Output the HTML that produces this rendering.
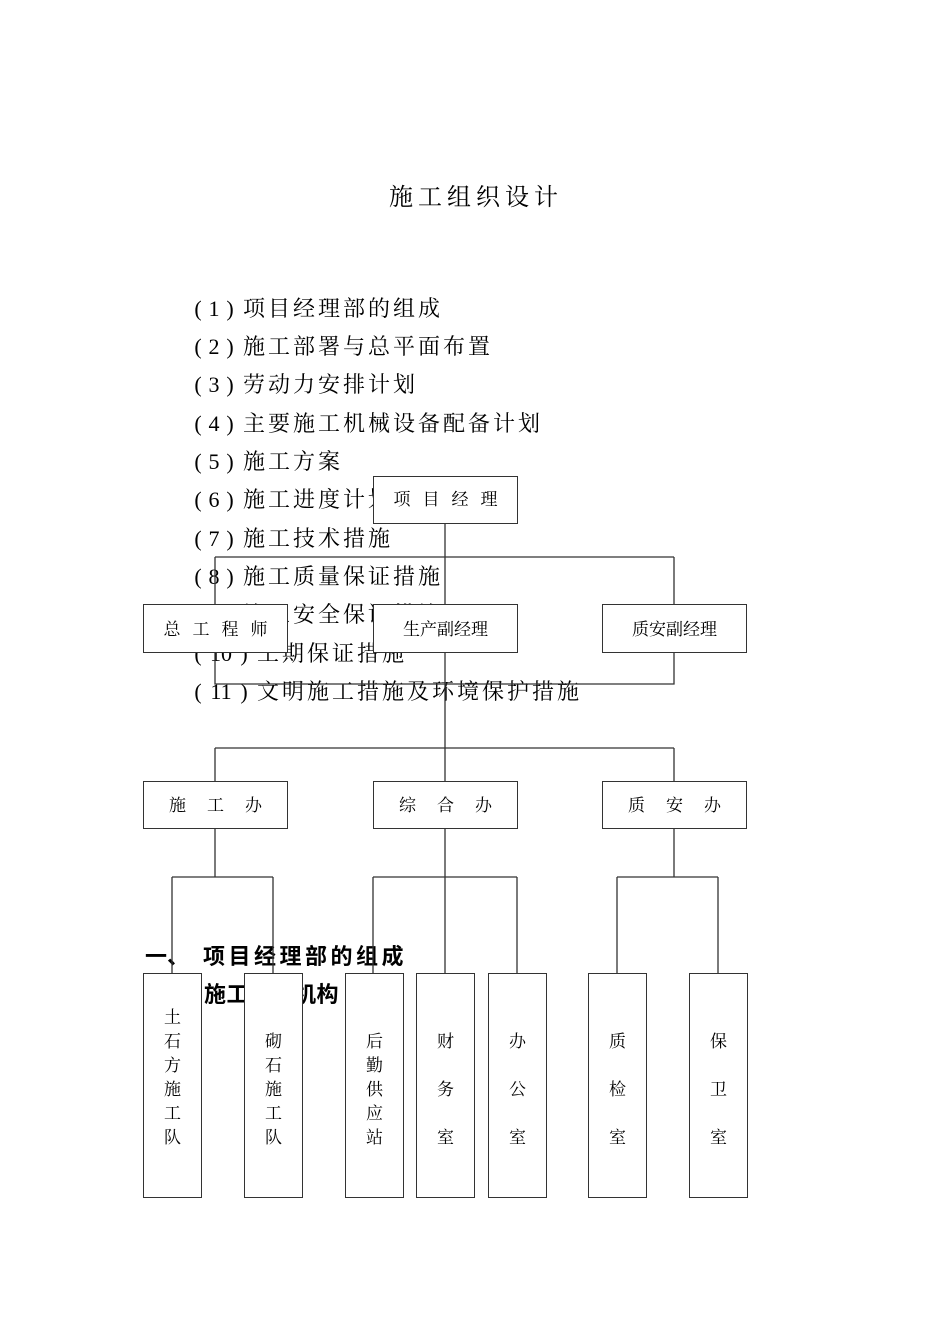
<!DOCTYPE html>
<html><head><meta charset="utf-8"><style>
body{margin:0;width:950px;height:1344px;background:#fff;position:relative;overflow:hidden;font-family:"Liberation Serif","Noto Serif CJK SC",serif;color:#000}
.t{position:absolute;white-space:nowrap;line-height:1}
.li{position:absolute;left:190px;white-space:nowrap;font-size:22px;line-height:1;letter-spacing:3px}
.li i{font-style:normal;display:inline-block;width:53px;letter-spacing:0}
.li i.ww{width:67px}
.li i b{font-weight:normal;display:inline-block;text-align:center}
.b{position:absolute;background:#fff;border:1.3px solid #333;box-sizing:border-box;font-size:17px;text-align:center;font-family:"Liberation Serif","Noto Serif CJK SC",serif}
.v{font-size:17px;line-height:24px;padding-top:32px}
.w{font-size:17px;line-height:48px;padding-top:44px}
svg{position:absolute;left:0;top:0}
</style></head><body>
<div class="t" style="left:389px;top:186px;font-size:24px;letter-spacing:5px">施工组织设计</div>
<div class="li" style="top:298px"><i><b style="width:16px">(</b><b style="width:16px">1</b><b style="width:16px">)</b></i>项目经理部的组成</div>
<div class="li" style="top:336px"><i><b style="width:16px">(</b><b style="width:16px">2</b><b style="width:16px">)</b></i>施工部署与总平面布置</div>
<div class="li" style="top:374px"><i><b style="width:16px">(</b><b style="width:16px">3</b><b style="width:16px">)</b></i>劳动力安排计划</div>
<div class="li" style="top:413px"><i><b style="width:16px">(</b><b style="width:16px">4</b><b style="width:16px">)</b></i>主要施工机械设备配备计划</div>
<div class="li" style="top:451px"><i><b style="width:16px">(</b><b style="width:16px">5</b><b style="width:16px">)</b></i>施工方案</div>
<div class="li" style="top:489px"><i><b style="width:16px">(</b><b style="width:16px">6</b><b style="width:16px">)</b></i>施工进度计划</div>
<div class="li" style="top:528px"><i><b style="width:16px">(</b><b style="width:16px">7</b><b style="width:16px">)</b></i>施工技术措施</div>
<div class="li" style="top:566px"><i><b style="width:16px">(</b><b style="width:16px">8</b><b style="width:16px">)</b></i>施工质量保证措施</div>
<div class="li" style="top:604px"><i><b style="width:16px">(</b><b style="width:16px">9</b><b style="width:16px">)</b></i>施工安全保证措施</div>
<div class="li" style="top:643px"><i class="ww"><b style="width:16px">(</b><b style="width:30px">10</b><b style="width:16px">)</b></i>工期保证措施</div>
<div class="li" style="top:681px"><i class="ww"><b style="width:16px">(</b><b style="width:30px">11</b><b style="width:16px">)</b></i>文明施工措施及环境保护措施</div>
<div class="t" style="left:145px;top:944px;font-size:22px;font-weight:bold;font-family:'Noto Sans CJK SC',sans-serif">一、<span style="display:inline-block;width:14px"></span><span style="letter-spacing:3.5px">项目经理部的组成</span></div>
<div class="t" style="left:204px;top:982px;font-size:22px;font-weight:bold;font-family:'Noto Sans CJK SC',sans-serif;letter-spacing:0.5px">施工管理机构</div>
<svg width="950" height="1344" stroke="#333" stroke-width="1.3" fill="none">
<path d="M445 523V877M215 557H674M215 557V604M674 557V604M215 652V684H674V652M215 748H674M215 748V781M674 748V781M215 828V877M172 877H273M172 877V973M273 877V973M373 877H517M373 877V973M445 877V973M517 877V973M674 828V877M617 877H718M617 877V973M718 877V973"/>
</svg>
<div class="b" style="left:373px;top:476px;width:145px;height:48px;padding-top:8px;letter-spacing:12px;padding-left:12px">项目经理</div>
<div class="b" style="left:143px;top:604px;width:145px;height:49px;padding-top:10px;letter-spacing:12px;padding-left:12px">总工程师</div>
<div class="b" style="left:373px;top:604px;width:145px;height:49px;padding-top:10px">生产副经理</div>
<div class="b" style="left:602px;top:604px;width:145px;height:49px;padding-top:10px">质安副经理</div>
<div class="b" style="left:143px;top:781px;width:145px;height:48px;padding-top:9px;letter-spacing:21px;padding-left:21px">施工办</div>
<div class="b" style="left:373px;top:781px;width:145px;height:48px;padding-top:9px;letter-spacing:21px;padding-left:21px">综合办</div>
<div class="b" style="left:602px;top:781px;width:145px;height:48px;padding-top:9px;letter-spacing:21px;padding-left:21px">质安办</div>
<div class="b v" style="left:143px;top:973px;width:59px;height:225px">土<br>石<br>方<br>施<br>工<br>队</div>
<div class="b v" style="left:244px;top:973px;width:59px;height:225px;padding-top:56px">砌<br>石<br>施<br>工<br>队</div>
<div class="b v" style="left:345px;top:973px;width:59px;height:225px;padding-top:56px">后<br>勤<br>供<br>应<br>站</div>
<div class="b w" style="left:416px;top:973px;width:59px;height:225px">财<br>务<br>室</div>
<div class="b w" style="left:488px;top:973px;width:59px;height:225px">办<br>公<br>室</div>
<div class="b w" style="left:588px;top:973px;width:59px;height:225px">质<br>检<br>室</div>
<div class="b w" style="left:689px;top:973px;width:59px;height:225px">保<br>卫<br>室</div>
</body></html>
